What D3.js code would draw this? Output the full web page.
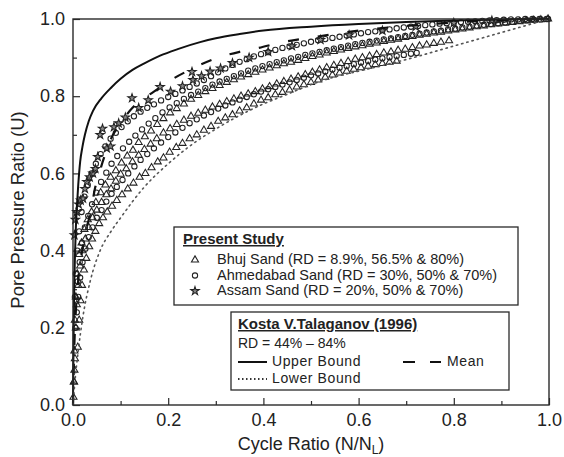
<!DOCTYPE html>
<html>
<head>
<meta charset="utf-8">
<script src="https://cdn.jsdelivr.net/npm/d3@7"></script>
<style>
  body { margin: 0; background: #fff; }
  svg text { font-family: "Liberation Sans", Arial, sans-serif; fill: #222; }
</style>
</head>
<body>
<svg id="chart" width="564" height="457"></svg>
<script>
// axis ticks
const majorTicks = [0, 0.2, 0.4, 0.6, 0.8, 1.0];
const minorTicks = [0.1, 0.3, 0.5, 0.7, 0.9];

// Kosta V. Talaganov (1996) bounds [N/NL, U]
const upperBound = [[0,0],[0.001,0.15],[0.002,0.26],[0.004,0.38],[0.006,0.46],[0.008,0.51],[0.011,0.57],[0.015,0.63],[0.02,0.67],[0.025,0.7],[0.033,0.735],[0.042,0.762],[0.06,0.795],[0.08,0.822],[0.1,0.845],[0.125,0.868],[0.15,0.885],[0.183,0.905],[0.22,0.922],[0.267,0.94],[0.3,0.95],[0.35,0.961],[0.4,0.97],[0.5,0.98],[0.6,0.987],[0.7,0.992],[0.8,0.996],[0.9,0.999],[1,1]];
const meanCurve = [[0,0],[0.002,0.12],[0.005,0.22],[0.01,0.31],[0.018,0.39],[0.027,0.45],[0.038,0.505],[0.046,0.56],[0.055,0.6],[0.065,0.64],[0.08,0.69],[0.1,0.73],[0.125,0.77],[0.15,0.795],[0.18,0.82],[0.21,0.845],[0.245,0.868],[0.3,0.898],[0.35,0.915],[0.39,0.925],[0.44,0.94],[0.5,0.952],[0.6,0.97],[0.7,0.982],[0.8,0.991],[0.9,0.997],[1,1]];
const lowerBound = [[0,0],[0.004,0.06],[0.011,0.14],[0.021,0.23],[0.036,0.32],[0.057,0.4],[0.08,0.45],[0.1,0.485],[0.15,0.565],[0.2,0.625],[0.25,0.675],[0.3,0.715],[0.35,0.75],[0.4,0.78],[0.45,0.805],[0.5,0.83],[0.55,0.85],[0.6,0.865],[0.7,0.895],[0.8,0.93],[0.9,0.965],[1,1]];

// Bhuj Sand (triangles)
const bhuj89 = [[0.01,0.15],[0.013,0.22],[0.016,0.27],[0.019,0.31],[0.023,0.35],[0.028,0.38],[0.034,0.41],[0.04,0.43],[0.047,0.45],[0.055,0.47],[0.063,0.485],[0.072,0.5],[0.082,0.515],[0.092,0.53],[0.103,0.545],[0.115,0.56],[0.127,0.575],[0.14,0.59],[0.152,0.6],[0.165,0.615],[0.178,0.63],[0.19,0.64],[0.203,0.655],[0.217,0.667],[0.23,0.678],[0.245,0.69],[0.26,0.7],[0.275,0.712],[0.29,0.722],[0.305,0.735],[0.32,0.744],[0.335,0.752],[0.35,0.762],[0.365,0.77],[0.38,0.78],[0.395,0.79],[0.41,0.796],[0.425,0.804],[0.44,0.81],[0.455,0.816],[0.47,0.824],[0.485,0.83],[0.5,0.836],[0.515,0.842],[0.53,0.849],[0.545,0.855],[0.56,0.86],[0.575,0.865],[0.59,0.87],[0.605,0.874],[0.62,0.878],[0.635,0.882],[0.65,0.885],[0.665,0.888],[0.68,0.891]];
const bhuj565 = [[0.001,0.02],[0.002,0.06],[0.003,0.09],[0.004,0.12],[0.006,0.2],[0.008,0.26],[0.011,0.31],[0.015,0.36],[0.02,0.4],[0.026,0.43],[0.033,0.46],[0.041,0.485],[0.05,0.505],[0.06,0.525],[0.07,0.545],[0.08,0.56],[0.09,0.58],[0.1,0.598],[0.112,0.612],[0.125,0.63],[0.138,0.647],[0.15,0.662],[0.163,0.676],[0.176,0.69],[0.19,0.705],[0.204,0.716],[0.218,0.727],[0.233,0.738],[0.248,0.748],[0.263,0.756],[0.278,0.764],[0.293,0.772],[0.308,0.779],[0.323,0.786],[0.338,0.793],[0.353,0.8],[0.368,0.806],[0.383,0.812],[0.398,0.819],[0.413,0.825],[0.428,0.832],[0.443,0.838],[0.458,0.844],[0.473,0.85],[0.488,0.856],[0.503,0.862],[0.518,0.868],[0.533,0.874],[0.548,0.88],[0.563,0.885],[0.578,0.89],[0.593,0.896],[0.608,0.9],[0.623,0.904],[0.638,0.908],[0.653,0.912],[0.668,0.915],[0.683,0.919],[0.698,0.922],[0.713,0.926],[0.728,0.93],[0.743,0.933],[0.758,0.937],[0.773,0.94],[0.79,0.944]];
const bhuj80 = [[0.002,0.06],[0.003,0.14],[0.004,0.22],[0.006,0.28],[0.009,0.34],[0.013,0.39],[0.018,0.42],[0.024,0.455],[0.031,0.48],[0.039,0.5],[0.048,0.525],[0.058,0.55],[0.068,0.57],[0.079,0.59],[0.09,0.607],[0.102,0.627],[0.114,0.645],[0.126,0.66],[0.138,0.68],[0.151,0.695],[0.164,0.71],[0.177,0.727],[0.19,0.742],[0.204,0.757],[0.218,0.768],[0.233,0.78],[0.248,0.792],[0.263,0.802],[0.278,0.812],[0.293,0.82],[0.308,0.828],[0.323,0.836],[0.338,0.843],[0.353,0.85],[0.368,0.856],[0.383,0.862],[0.398,0.868],[0.413,0.873],[0.428,0.879],[0.443,0.884],[0.458,0.888],[0.473,0.893],[0.488,0.898],[0.503,0.903],[0.518,0.907],[0.533,0.912],[0.548,0.916],[0.563,0.92],[0.578,0.924],[0.593,0.928],[0.608,0.931],[0.623,0.935],[0.638,0.938],[0.653,0.942],[0.668,0.945],[0.683,0.948],[0.698,0.952],[0.713,0.955],[0.728,0.958],[0.743,0.961],[0.758,0.964],[0.773,0.966],[0.788,0.969],[0.803,0.972],[0.818,0.974],[0.833,0.977],[0.848,0.98],[0.863,0.982],[0.878,0.985],[0.893,0.987],[0.908,0.989],[0.923,0.991],[0.938,0.993],[0.953,0.995],[0.968,0.997],[0.983,0.998],[0.998,1.0]];

// Ahmedabad Sand (circles)
const ahmed30 = [[0.008,0.24],[0.011,0.28],[0.015,0.33],[0.02,0.37],[0.026,0.405],[0.033,0.435],[0.041,0.46],[0.05,0.485],[0.06,0.505],[0.07,0.527],[0.081,0.547],[0.092,0.565],[0.104,0.583],[0.116,0.6],[0.129,0.618],[0.142,0.635],[0.156,0.65],[0.17,0.665],[0.185,0.68],[0.2,0.694],[0.215,0.706],[0.23,0.718],[0.245,0.73],[0.26,0.74],[0.275,0.75],[0.29,0.759],[0.305,0.768],[0.32,0.776],[0.335,0.784],[0.35,0.791],[0.365,0.798],[0.38,0.805],[0.395,0.812],[0.41,0.818],[0.425,0.824],[0.44,0.83],[0.455,0.836],[0.47,0.842],[0.485,0.848],[0.5,0.854],[0.515,0.859],[0.53,0.864],[0.545,0.869],[0.56,0.874],[0.575,0.878],[0.59,0.883],[0.605,0.887],[0.62,0.891],[0.635,0.895],[0.65,0.898],[0.665,0.901],[0.68,0.904],[0.695,0.907],[0.71,0.91],[0.722,0.912]];
const ahmed50 = [[0.005,0.2],[0.007,0.27],[0.01,0.32],[0.014,0.37],[0.019,0.42],[0.025,0.46],[0.032,0.49],[0.04,0.52],[0.049,0.55],[0.059,0.578],[0.07,0.602],[0.081,0.625],[0.093,0.645],[0.105,0.665],[0.118,0.682],[0.131,0.698],[0.145,0.714],[0.159,0.729],[0.173,0.743],[0.188,0.758],[0.203,0.771],[0.218,0.782],[0.233,0.793],[0.248,0.803],[0.263,0.812],[0.278,0.821],[0.293,0.83],[0.308,0.838],[0.323,0.845],[0.338,0.852],[0.353,0.859],[0.368,0.866],[0.383,0.872],[0.398,0.878],[0.413,0.883],[0.428,0.888],[0.443,0.893],[0.458,0.898],[0.473,0.902],[0.488,0.907],[0.503,0.911],[0.518,0.915],[0.533,0.919],[0.548,0.923],[0.563,0.927],[0.578,0.931],[0.593,0.935],[0.608,0.938],[0.623,0.941],[0.638,0.944],[0.653,0.947],[0.668,0.95],[0.683,0.953],[0.698,0.956],[0.713,0.959],[0.728,0.962],[0.743,0.965],[0.758,0.968],[0.773,0.97],[0.788,0.973],[0.803,0.975],[0.818,0.978],[0.833,0.98],[0.848,0.983],[0.863,0.985],[0.878,0.987],[0.893,0.989],[0.908,0.991],[0.923,0.993],[0.938,0.995],[0.953,0.997],[0.968,0.998],[0.983,0.999],[0.998,1.0]];
const ahmed70 = [[0.004,0.28],[0.006,0.34],[0.009,0.4],[0.013,0.45],[0.018,0.5],[0.024,0.54],[0.031,0.57],[0.039,0.6],[0.048,0.625],[0.058,0.65],[0.068,0.67],[0.079,0.69],[0.09,0.705],[0.102,0.72],[0.115,0.735],[0.128,0.748],[0.142,0.76],[0.156,0.77],[0.17,0.779],[0.185,0.789],[0.2,0.798],[0.215,0.806],[0.23,0.815],[0.245,0.824],[0.26,0.833],[0.275,0.842],[0.29,0.852],[0.305,0.862],[0.32,0.872],[0.335,0.881],[0.35,0.889],[0.365,0.896],[0.38,0.903],[0.395,0.909],[0.41,0.914],[0.425,0.92],[0.44,0.925],[0.455,0.929],[0.47,0.933],[0.485,0.937],[0.5,0.941],[0.515,0.945],[0.53,0.948],[0.545,0.951],[0.56,0.954],[0.575,0.957],[0.59,0.96],[0.605,0.963],[0.62,0.966],[0.635,0.968],[0.65,0.971],[0.665,0.973],[0.68,0.976],[0.695,0.978],[0.71,0.98],[0.725,0.982],[0.74,0.984],[0.755,0.986],[0.77,0.988],[0.785,0.989],[0.8,0.991],[0.815,0.992],[0.83,0.993],[0.845,0.994],[0.86,0.995],[0.875,0.996],[0.89,0.997],[0.905,0.998],[0.92,0.999],[0.935,0.999],[0.95,1.0],[0.965,1.0],[0.98,1.0],[0.995,1.0]];

// Assam Sand (stars)
const assam = [[0.003,0.44],[0.005,0.48],[0.008,0.5],[0.012,0.52],[0.016,0.53],[0.021,0.535],[0.025,0.56],[0.029,0.578],[0.035,0.59],[0.042,0.6],[0.047,0.612],[0.052,0.643],[0.057,0.7],[0.062,0.716],[0.071,0.665],[0.079,0.67],[0.086,0.72],[0.096,0.73],[0.11,0.745],[0.124,0.795],[0.138,0.77],[0.158,0.79],[0.183,0.824],[0.205,0.812],[0.23,0.826],[0.252,0.842],[0.25,0.863],[0.27,0.852],[0.288,0.864],[0.31,0.872],[0.335,0.886],[0.37,0.9],[0.41,0.915],[0.46,0.93],[0.52,0.946],[0.58,0.958],[0.65,0.97],[0.72,0.98],[0.8,0.99],[0.88,0.996]];

const svg = d3.select("#chart");
const x = d3.scaleLinear().domain([0, 1]).range([73, 549]);
const y = d3.scaleLinear().domain([0, 1]).range([405, 19]);
const ink = "#2a2a2a";
const markInk = "#222";

// ticks (inward)
svg.append("g")
  .attr("transform", "translate(0,405)")
  .call(d3.axisBottom(x).tickValues(majorTicks).tickSize(-7).tickPadding(8).tickFormat(d3.format(".1f")))
  .call((g) => g.select(".domain").remove())
  .call((g) => g.selectAll("text").attr("font-size", 18).attr("fill", ink));
svg.append("g")
  .attr("transform", "translate(0,405)")
  .call(d3.axisBottom(x).tickValues(minorTicks).tickSize(-4).tickFormat(""))
  .call((g) => g.select(".domain").remove());
svg.append("g")
  .attr("transform", "translate(73,0)")
  .call(d3.axisLeft(y).tickValues(majorTicks).tickSize(-7).tickPadding(8).tickFormat(d3.format(".1f")))
  .call((g) => g.select(".domain").remove())
  .call((g) => g.selectAll("text").attr("font-size", 18).attr("fill", ink));
svg.append("g")
  .attr("transform", "translate(73,0)")
  .call(d3.axisLeft(y).tickValues(minorTicks).tickSize(-4).tickFormat(""))
  .call((g) => g.select(".domain").remove());
svg.selectAll(".tick line").attr("stroke", ink).attr("stroke-width", 1.2);

const plot = svg.append("g");

// symbols
const tri = d3.symbol().type(d3.symbolTriangle).size(22);
const circ = d3.symbol().type(d3.symbolCircle).size(22);
const star = d3.symbol().type(d3.symbolStar).size(22);

function drawSeries(data, gen, fill) {
  plot.append("g")
    .selectAll("path")
    .data(data)
    .join("path")
    .attr("d", gen)
    .attr("transform", (d) => `translate(${x(d[0])},${y(d[1])})`)
    .attr("fill", fill)
    .attr("stroke", markInk)
    .attr("stroke-width", 1.05);
}
[bhuj89, bhuj565, bhuj80].forEach((s) => drawSeries(s, tri, "none"));
[ahmed30, ahmed50, ahmed70].forEach((s) => drawSeries(s, circ, "none"));
drawSeries(assam, star, "#888");

// curves
const line = d3.line().x((d) => x(d[0])).y((d) => y(d[1])).curve(d3.curveMonotoneX);
plot.append("path").datum(upperBound).attr("d", line)
  .attr("fill", "none").attr("stroke", "#111").attr("stroke-width", 2);
plot.append("path").datum(meanCurve).attr("d", line)
  .attr("fill", "none").attr("stroke", "#111").attr("stroke-width", 2.2)
  .attr("stroke-dasharray", "11,19");
plot.append("path").datum(lowerBound).attr("d", line)
  .attr("fill", "none").attr("stroke", "#555").attr("stroke-width", 1.6)
  .attr("stroke-dasharray", "1.4,4").attr("stroke-linecap", "round");

// frame
svg.append("rect")
  .attr("x", 73).attr("y", 19).attr("width", 476).attr("height", 386)
  .attr("fill", "none").attr("stroke", ink).attr("stroke-width", 1.4);

// axis titles
svg.append("text")
  .attr("x", 311).attr("y", 450)
  .attr("text-anchor", "middle").attr("font-size", 18).attr("fill", ink)
  .call((t) => t.append("tspan").text("Cycle Ratio (N/N"))
  .call((t) => t.append("tspan").attr("font-size", 12).attr("dy", 4).text("L"))
  .call((t) => t.append("tspan").attr("dy", -4).text(")"));
svg.append("text")
  .attr("transform", "translate(24,210) rotate(-90)")
  .attr("text-anchor", "middle").attr("font-size", 18.5).attr("fill", ink)
  .text("Pore Pressure Ratio (U)");

// legend: present study
const leg1 = svg.append("g");
leg1.append("rect")
  .attr("x", 174).attr("y", 227).attr("width", 344).attr("height", 78)
  .attr("fill", "#fff").attr("stroke", ink).attr("stroke-width", 1.3);
leg1.append("text")
  .attr("x", 183).attr("y", 244).attr("font-size", 15).attr("font-weight", "bold")
  .attr("text-decoration", "underline").text("Present Study");
const rows = [
  { gen: tri, fill: "none", label: "Bhuj Sand (RD = 8.9%, 56.5% & 80%)" },
  { gen: circ, fill: "none", label: "Ahmedabad Sand (RD = 30%, 50% & 70%)" },
  { gen: star, fill: "#888", label: "Assam Sand (RD = 20%, 50% & 70%)" }
];
rows.forEach((r, i) => {
  const yy = 264 + i * 15.5;
  leg1.append("path").attr("d", r.gen)
    .attr("transform", `translate(195,${yy - 4})`)
    .attr("fill", r.fill).attr("stroke", markInk).attr("stroke-width", 1.05);
  leg1.append("text").attr("x", 217).attr("y", yy).attr("font-size", 14.5).text(r.label);
});

// legend: Talaganov
const leg2 = svg.append("g");
leg2.append("rect")
  .attr("x", 231).attr("y", 312).attr("width", 278).attr("height", 78)
  .attr("fill", "#fff").attr("stroke", ink).attr("stroke-width", 1.3);
leg2.append("text")
  .attr("x", 238).attr("y", 329).attr("font-size", 15).attr("font-weight", "bold")
  .attr("text-decoration", "underline").text("Kosta V.Talaganov (1996)");
leg2.append("text").attr("x", 238).attr("y", 348).attr("font-size", 14).text("RD = 44% \u2013 84%");
leg2.append("line").attr("x1", 238).attr("x2", 267).attr("y1", 362).attr("y2", 362)
  .attr("stroke", "#111").attr("stroke-width", 2);
leg2.append("text").attr("x", 272).attr("y", 366).attr("font-size", 14)
  .attr("letter-spacing", 0.6).text("Upper Bound");
leg2.append("line").attr("x1", 238).attr("x2", 267).attr("y1", 379).attr("y2", 379)
  .attr("stroke", "#333").attr("stroke-width", 1.8).attr("stroke-dasharray", "1.5,2.5");
leg2.append("text").attr("x", 272).attr("y", 383).attr("font-size", 14)
  .attr("letter-spacing", 0.6).text("Lower Bound");
leg2.append("line").attr("x1", 403).attr("x2", 441).attr("y1", 362).attr("y2", 362)
  .attr("stroke", "#111").attr("stroke-width", 2).attr("stroke-dasharray", "12,15");
leg2.append("text").attr("x", 447).attr("y", 366).attr("font-size", 14)
  .attr("letter-spacing", 0.6).text("Mean");
</script>
</body>
</html>
